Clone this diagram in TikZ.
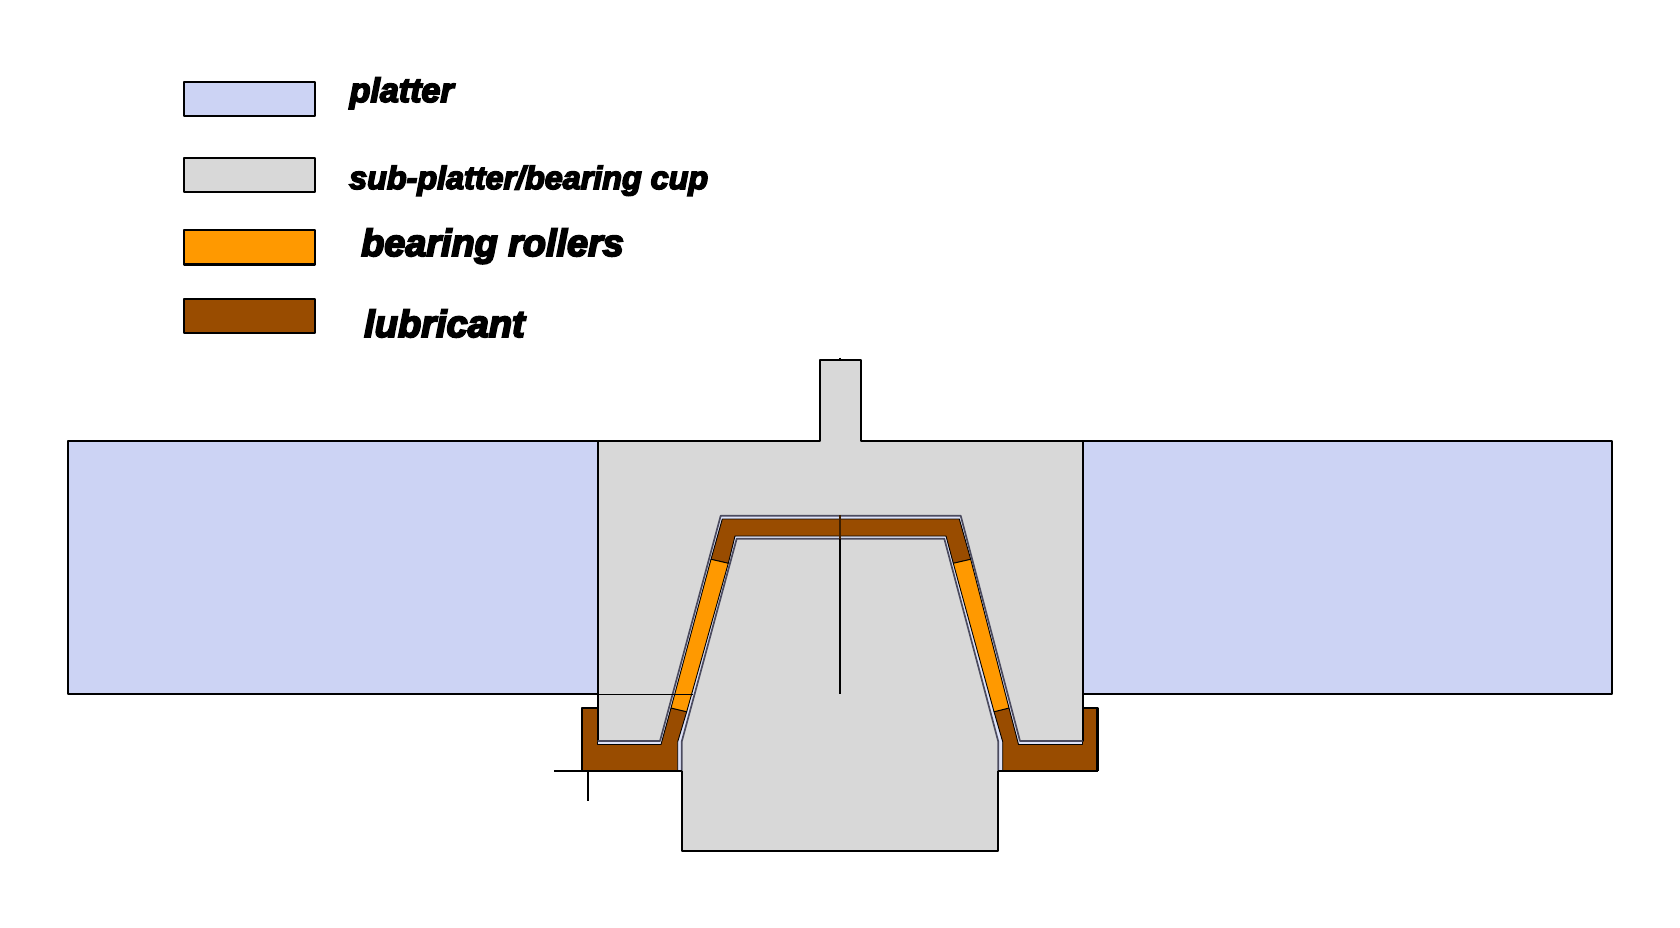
\documentclass[tikz,border=0pt]{standalone}
\usepackage{fontspec}
\newfontface\lab[FakeBold=5]{Liberation Sans Bold Italic}
\definecolor{platter}{RGB}{204,211,244}
\definecolor{gapblue}{RGB}{222,226,248}
\definecolor{subcup}{RGB}{216,216,216}
\definecolor{roller}{RGB}{255,153,0}
\definecolor{lube}{RGB}{153,76,0}
\definecolor{edge}{RGB}{0,0,0}
\definecolor{slate}{RGB}{75,75,95}
\tikzset{
  swatch/.style={draw=edge,line width=2.2pt,line join=round},
  outline/.style={draw=edge,line width=2pt,line join=round},
  cavity/.style={draw=slate,line width=1.7pt,line join=round},
  fine/.style={draw=edge,line width=0.9pt,line join=round},
  label/.style={anchor=base west,inner sep=0pt,text=black}
}
\begin{document}
\begin{tikzpicture}[x=1pt,y=-1pt]
\useasboundingbox (0,0) rectangle (1680,928);
\fill[white] (0,0) rectangle (1680,928);
% legend
\draw[swatch,fill=platter] (184.2,81.8) rectangle (315,115.8);
\draw[swatch,fill=subcup] (184.2,158) rectangle (315,192);
\draw[swatch,fill=roller] (184.2,229.8) rectangle (315,264.5);
\draw[swatch,fill=lube] (184.2,299.3) rectangle (315,333);
\node[label,font=\lab\fontsize{34}{34}\selectfont] (tp) at (349.5,102) {platter};
\node[label,font=\lab\fontsize{32.3}{33}\selectfont] (ts) at (349,189) {sub-platter/bearing cup};
\node[label,font=\lab\fontsize{37.8}{38}\selectfont] (tb) at (361,256) {bearing rollers};
\node[label,font=\lab\fontsize{38}{38}\selectfont] (tl) at (364,337) {lubricant};
% platter
\draw[outline,fill=platter] (597.5,440.7) -- (67.5,440.7) -- (67.5,694) -- (597.5,694) -- cycle;
\draw[outline,fill=platter] (1082.5,440.7) -- (1612,440.7) -- (1612,694) -- (1082.5,694) -- cycle;
% clearance underlay
\fill[gapblue] (597.5,741) -- (660,741) -- (720.7,515.7) -- (960.7,515.7) -- (1020,741) -- (1082.5,741) -- (1082.5,760) -- (1000,771) -- (680,771) -- (597.5,760) -- cycle;
% sub-platter / cup
\fill[subcup] (597.5,440.7) -- (819.5,440.7) -- (819.5,360) -- (860.5,360) -- (860.5,440.7) -- (1082.5,440.7) -- (1082.5,741) -- (1020,741) -- (960.7,515.7) -- (720.7,515.7) -- (660,741) -- (597.5,741) -- cycle;
% spindle
\fill[subcup] (681.7,771) -- (681.7,741.7) -- (736.7,538.7) -- (944.3,538.7) -- (998.3,741.7) -- (998.3,850.7) -- (681.7,850.7) -- cycle;
% lubricant and rollers
\path[fill=lube,fine] (582,708) -- (597.5,708) -- (597.5,744.5) -- (661,744.5) -- (671,708) -- (686.7,711.7) -- (677.7,741.7) -- (677.7,771) -- (582,771) -- cycle;
\path[fill=lube,fine] (1097.7,708) -- (1082.5,708) -- (1082.5,744.5) -- (1018.5,744.5) -- (1009,708) -- (994,711.7) -- (1002.7,741.7) -- (1002.7,771) -- (1097.7,771) -- cycle;
\path[fill=lube,fine] (711,559.3) -- (722.3,519) -- (959.3,519) -- (970.7,559.3) -- (953.3,563.3) -- (946,536) -- (735,536) -- (728.3,563.3) -- cycle;
\path[fill=roller,fine] (711,559.3) -- (728.3,563.3) -- (686.7,711.7) -- (671,708) -- cycle;
\path[fill=roller,fine] (970.7,559.3) -- (953.3,563.3) -- (994,711.7) -- (1009,708) -- cycle;
% outer outlines
\draw[outline] (660,741) -- (597.5,741) -- (597.5,440.7) -- (819.5,440.7) -- (819.5,360) -- (860.5,360) -- (860.5,440.7) -- (1082.5,440.7) -- (1082.5,741) -- (1020,741);
\draw[cavity] (597.5,741) -- (660,741) -- (720.7,515.7) -- (960.7,515.7) -- (1020,741) -- (1082.5,741);
\draw[cavity] (681.7,771) -- (681.7,741.7) -- (736.7,538.7) -- (944.3,538.7) -- (998.3,741.7) -- (998.3,771);
\draw[outline] (681.7,771) -- (681.7,850.7) -- (998.3,850.7) -- (998.3,771);
% lubricant outline
\draw[outline] (582,771) -- (681.7,771);
\draw[outline,line width=2.6pt] (597.5,708) -- (582,708) -- (582,771);
\draw[outline] (998.3,771) -- (1097.7,771);
\draw[outline,line width=2.6pt] (1097.7,771) -- (1097.7,708) -- (1082.5,708);
% free lines
\coordinate (cT) at (840,515);
\coordinate (cM) at (840,538.7);
\coordinate (cB) at (840,694);
\draw[draw=lube!40!black,line width=1.2pt] (cT) -- (cM);
\draw[draw=edge,line width=1.8pt] (cM) -- (cB);
\coordinate (capT) at (840,357.5);
\coordinate (capB) at (840,360);
\draw[draw=edge,line width=1.5pt] (capT) -- (capB);
\coordinate (hL) at (597.5,694);
\coordinate (hR) at (693,694);
\draw[draw=edge,line width=1pt] (hL) -- (hR);
\coordinate (tA) at (554,771);
\coordinate (tB) at (582,771);
\draw[draw=edge,line width=1.6pt] (tA) -- (tB);
\coordinate (tC) at (588.3,771);
\coordinate (tD) at (588.3,800.7);
\draw[draw=edge,line width=1.7pt] (tC) -- (tD);
\end{tikzpicture}
\end{document}
